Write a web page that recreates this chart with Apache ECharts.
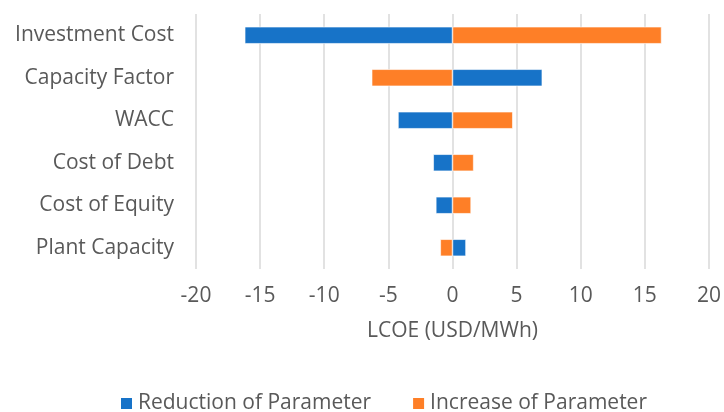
<!DOCTYPE html>
<html>
<head>
<meta charset="utf-8">
<script src="https://cdn.jsdelivr.net/npm/echarts@6/dist/echarts.min.js"></script>
<style>
  html, body { margin: 0; padding: 0; background: #fff; }
  #main { width: 724px; height: 412px; }
</style>
</head>
<body>
<div id="main"></div>
<script>
// tornado chart data, LCOE change in USD/MWh
const parameters = ['Investment Cost', 'Capacity Factor', 'WACC', 'Cost of Debt', 'Cost of Equity', 'Plant Capacity'];
const reductionValues = [-16.2, 7.0, -4.25, -1.5, -1.3, 1.05];
const increaseValues = [16.3, -6.3, 4.7, 1.65, 1.45, -0.95];
const xTicks = [-20, -15, -10, -5, 0, 5, 10, 15, 20];

const textColor = '#595959';
const font = 'Open Sans';
const fontSize = 21;

let chartDom = document.getElementById('main');
let myChart = echarts.init(chartDom);
let option = {
    animation: false,
    textStyle: { fontFamily: font },
    legend: {
        top: 388,
        left: 114,
        itemWidth: 13,
        itemHeight: 13,
        itemGap: 40,
        icon: 'rect',
        textStyle: { color: textColor, fontSize: fontSize, fontFamily: font },
        data: ['Reduction of Parameter', 'Increase of Parameter']
    },
    grid: {
        left: 196,
        right: 11,
        top: 14,
        height: 255,
        containLabel: false
    },
    xAxis: {
        type: 'value',
        min: xTicks[0],
        max: xTicks[xTicks.length - 1],
        interval: 5,
        name: 'LCOE (USD/MWh)',
        nameLocation: 'middle',
        nameGap: 52,
        nameTextStyle: { color: textColor, fontSize: fontSize, fontFamily: font },
        axisLine: { show: false },
        axisTick: { show: false },
        axisLabel: { color: textColor, fontSize: fontSize, margin: 17, fontFamily: font },
        splitLine: { lineStyle: { color: '#d9d9d9', width: 1.5 } }
    },
    yAxis: {
        type: 'category',
        inverse: true,
        data: parameters,
        axisLine: { show: false },
        axisTick: { show: false },
        axisLabel: { color: textColor, fontSize: fontSize, margin: 22, fontFamily: font }
    },
    series: [
        {
            name: 'Reduction of Parameter',
            type: 'bar',
            data: reductionValues,
            barWidth: 17,
            barGap: '-100%',
            itemStyle: { color: '#1773c8', borderColor: '#ffffff', borderWidth: 0.6 }
        },
        {
            name: 'Increase of Parameter',
            type: 'bar',
            data: increaseValues,
            barWidth: 17,
            itemStyle: { color: '#fe7f27', borderColor: '#ffffff', borderWidth: 0.6 }
        }
    ]
};
option && myChart.setOption(option);
</script>
</body>
</html>
